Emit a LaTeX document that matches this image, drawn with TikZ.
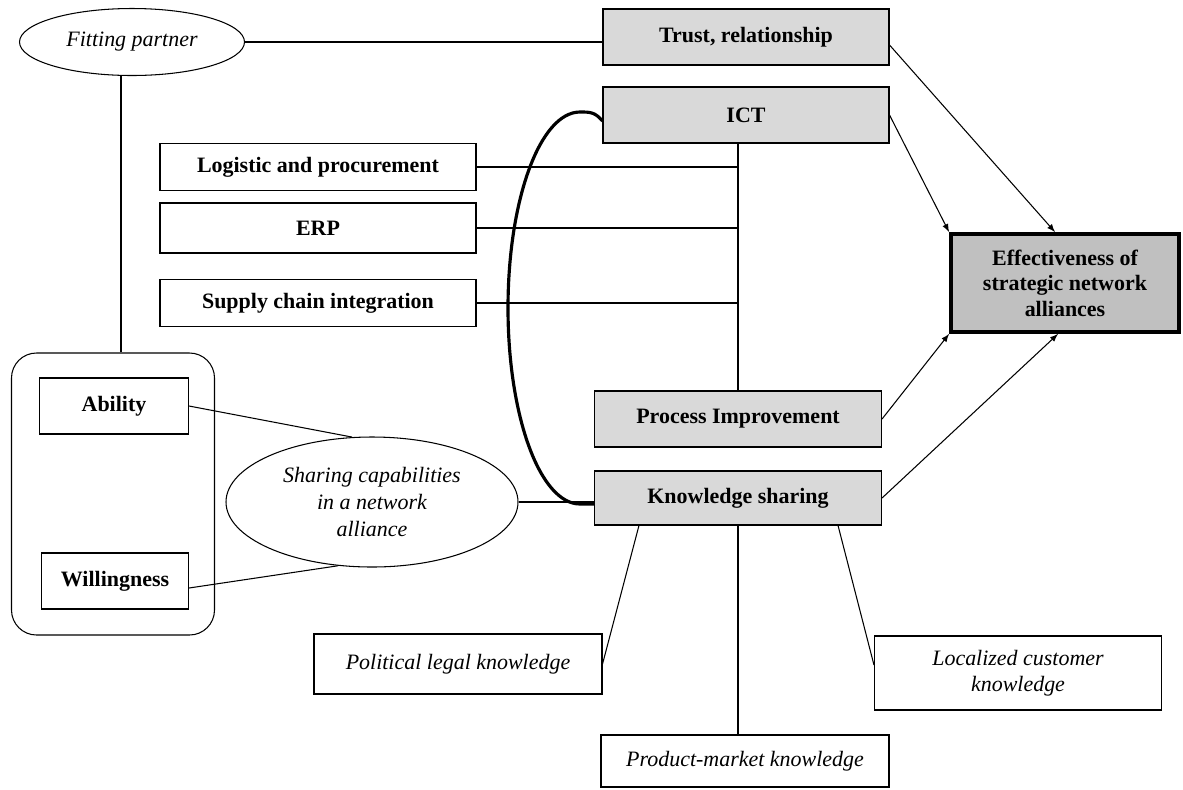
\documentclass[tikz,border=0pt]{standalone}
\usepackage{fontspec}
\setmainfont{Liberation Serif}
\usetikzlibrary{shapes.geometric}
\definecolor{boxgrey}{HTML}{D9D9D9}
\definecolor{goalgrey}{HTML}{C0C0C0}
\tikzset{
BOX/.style 2 args={draw=black,line width=0.6pt,inner sep=0pt,align=center,minimum width=#1*0.02cm,minimum height=#2*0.02cm},
BOLDBOX/.style 2 args={BOX={#1}{#2},font=\fontsize{12.5}{14.5}\selectfont\bfseries},
ITBOX/.style 2 args={BOX={#1}{#2},font=\fontsize{12.5}{14.5}\selectfont\itshape},
OVAL/.style 2 args={ellipse,BOX={#1}{#2},font=\fontsize{12.5}{15.5}\selectfont\itshape},
LINK/.style={draw=black,line width=0.6pt},
ARROW/.style={draw=black,line width=0.6pt,-latex},
BOND/.style={draw=black,line width=1.8pt},
}
\begin{document}
\begin{tikzpicture}[x=0.02cm,y=-0.02cm]
	\useasboundingbox (0,0) rectangle (1183,789);
	\node[OVAL={225}{67}] (fitting) at (132,42) {Fitting partner};
	\node[BOLDBOX={286}{56},fill=boxgrey] (trust) at (746,37) {Trust, relationship};
	\node[BOLDBOX={286}{56},fill=boxgrey] (ict) at (746,115) {ICT};
	\node[BOLDBOX={316}{47}] (logistic) at (318,167) {Logistic and procurement};
	\node[BOLDBOX={316}{50}] (erp) at (318,228) {ERP};
	\node[BOLDBOX={316}{47}] (supply) at (318,303) {Supply chain integration};
	\node[BOLDBOX={287}{56},fill=boxgrey] (process) at (738,419) {Process Improvement};
	\node[BOLDBOX={287}{54},fill=boxgrey] (knowledge) at (738,498) {Knowledge sharing};
	\node[BOLDBOX={228}{98},fill=goalgrey,line width=2.2pt] (effect) at (1065,283) {Effectiveness of\\strategic network\\alliances};
	\node[BOX={203}{282},rounded corners=0.5cm] (group) at (113,494) {};
	\node[BOLDBOX={149}{56}] (ability) at (114,406) {Ability};
	\node[BOLDBOX={147}{56}] (willing) at (115,581) {Willingness};
	\node[OVAL={292}{130}] (sharing) at (372,502) {Sharing capabilities\\in a network\\alliance};
	\node[ITBOX={288}{60}] (political) at (458,664) {Political legal knowledge};
	\node[ITBOX={288}{52}] (product) at (745,761) {Product-market knowledge};
	\node[ITBOX={287}{74}] (localized) at (1018,673) {Localized customer\\knowledge};
	\draw[LINK] (fitting.east) -- (fitting.east -| trust.west);
	\draw[LINK] ([xshift=-0.22cm]fitting.south) -- ([xshift=-0.22cm]fitting.south |- group.north);
	\draw[LINK] (process.north) -- (process.north |- ict.south);
	\foreach \n in {logistic,erp,supply}
		\draw[LINK] (\n.east) -- (\n.east -| process.north);
	\draw[LINK] (knowledge.south) -- (knowledge.south |- product.north);
	\draw[LINK] ([xshift=0.9cm]knowledge.south west) -- (political.east);
	\draw[LINK] ([xshift=-0.88cm]knowledge.south east) -- ([yshift=0.16cm]localized.west);
	\draw[LINK] (sharing.east) -- (sharing.east -| knowledge.west);
	\draw[LINK] (ability.east) -- (sharing.107);
	\draw[LINK] ([yshift=-0.14cm]willing.east) -- (sharing.242);
	\draw[ARROW] ([yshift=-0.16cm]trust.east) -- ([xshift=-0.2cm]effect.north);
	\draw[ARROW] (ict.east) -- (effect.north west);
	\draw[ARROW] (process.east) -- (effect.south west);
	\draw[ARROW] (knowledge.east) -- ([xshift=-0.14cm]effect.south);
	\draw[BOND] ([yshift=-0.12cm]ict.west) .. controls (595,112) and (590,112) .. (580,112)
		.. controls (540,112) and (508,200) .. (508,308)
		.. controls (508,416) and (540,504) .. (580,504) -- ([yshift=-0.12cm]knowledge.west);
\end{tikzpicture}
\end{document}
